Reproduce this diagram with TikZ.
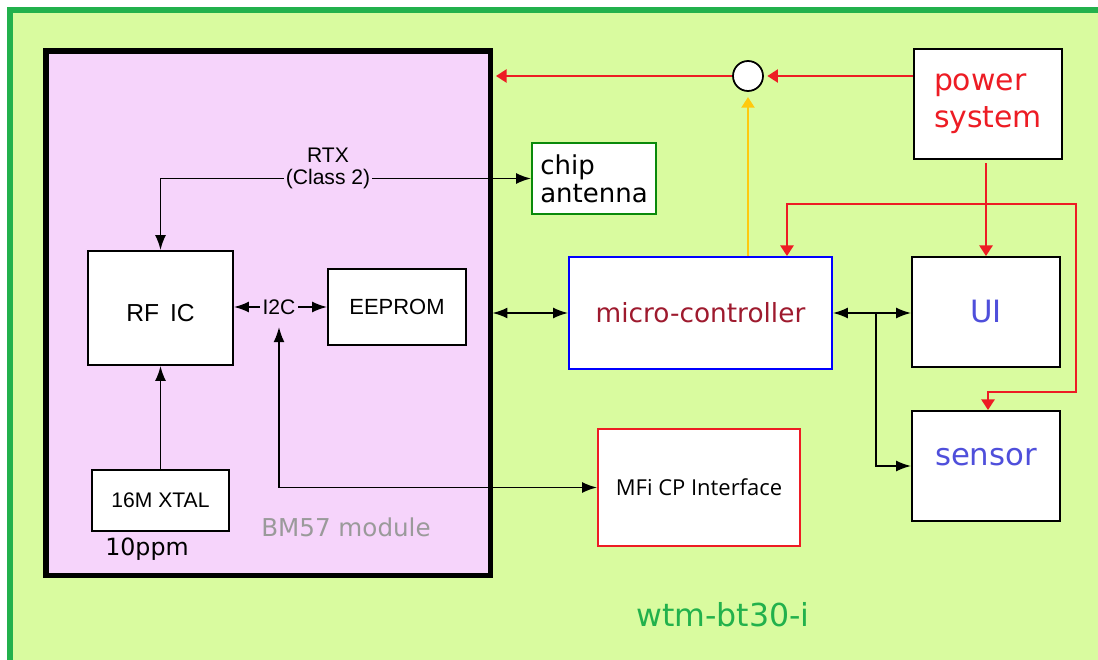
\documentclass[tikz,border=0pt]{standalone}
\usepackage{fontspec}
\setmainfont{DejaVu Sans}
\newfontfamily\arialf{Liberation Sans}
\newfontfamily\segoef{Open Sans}
\usetikzlibrary{arrows.meta}
\definecolor{bgfill}{HTML}{D9FB9F}
\definecolor{frameg}{HTML}{22B14C}
\definecolor{bmfill}{HTML}{F6D4FB}
\definecolor{redc}{HTML}{ED1C24}
\definecolor{yelc}{HTML}{FFC90E}
\definecolor{antg}{HTML}{0A8A0A}
\definecolor{mcutxt}{HTML}{9E1A2E}
\definecolor{bluetxt}{HTML}{4F4FDB}
\definecolor{graytxt}{HTML}{9A9A9A}
\tikzset{
  box/.style={draw=black, fill=white, line width=1.1pt, inner sep=0pt, align=center},
  blackline/.style={draw=black, line width=0.9pt},
  bR/.style={-{Latex[length=8.5pt,width=6.2pt]}},
  bL/.style={{Latex[length=8.5pt,width=6.2pt]}-},
  bLR/.style={{Latex[length=8.5pt,width=6.2pt]}-{Latex[length=8.5pt,width=6.2pt]}},
  redline/.style={draw=redc, line width=1pt},
  cR/.style={-{Triangle[length=6pt,width=7.5pt]}},
  cLR/.style={{Triangle[length=6pt,width=7.5pt]}-{Triangle[length=6pt,width=7.5pt]}},
  yelline/.style={draw=yelc, line width=1pt},
  arialtxt/.style={font=\arialf\fontsize{12}{13}\selectfont},
}
\begin{document}
\begin{tikzpicture}[x=0.02cm,y=-0.02cm]
\useasboundingbox (0,0) rectangle (1098,659);
\fill[white] (0,0) rectangle (1098,659);
\clip (0,0) rectangle (1098,659);
\draw[fill=bgfill, draw=frameg, line width=3pt] (10,10) rectangle (1130,700);

% BM57 module
\node[draw=black, fill=bmfill, line width=2.85pt, inner sep=0pt,
      minimum width=444*0.02cm, minimum height=524*0.02cm] (bm) at (268,313) {};

% inner boxes
\node[box, minimum width=145*0.02cm, minimum height=114*0.02cm,
      font=\arialf\fontsize{14}{16}\selectfont] (rfic) at (160.5,308) {\raisebox{-2.8pt}[\height][\depth]{RF\hspace{0.45em}IC}};
\node[box, minimum width=138*0.02cm, minimum height=76*0.02cm,
      font=\arialf\fontsize{12.5}{14}\selectfont] (eeprom) at (397,307) {EEPROM};
\node[box, minimum width=137*0.02cm, minimum height=61*0.02cm,
      font=\arialf\fontsize{12}{14}\selectfont] (xtal) at (160.5,500.5) {16M XTAL};
\node[font=\fontsize{13.5}{15}\selectfont, inner sep=0pt] (ppm) at (147,549) {10ppm};
\node[font=\fontsize{14}{16}\selectfont, text=graytxt, inner sep=0pt] (bmlabel) at (346,527) {BM57 module};

% right side boxes
\node[box, draw=antg, minimum width=124*0.02cm, minimum height=71*0.02cm,
      align=left, font=\fontsize{14.8}{16}\selectfont] (ant) at (594,178.5) {chip\\antenna};
\node[draw=black, fill=white, circle, line width=1pt, inner sep=0pt,
      minimum size=30*0.02cm] (circ) at (748,76) {};
\node[box, minimum width=148*0.02cm, minimum height=110*0.02cm, align=left,
      text=redc, font=\fontsize{17}{21}\selectfont] (pwr) at (988,104) {power\\system};
\node[box, draw=blue, minimum width=263*0.02cm, minimum height=112*0.02cm,
      text=mcutxt, font=\fontsize{15}{17}\selectfont] (mcu) at (700.5,313) {micro-controller};
\node[box, minimum width=148*0.02cm, minimum height=110*0.02cm,
      text=bluetxt, font=\fontsize{17.5}{19}\selectfont] (ui) at (986,312) {UI};
\node[box, minimum width=148*0.02cm, minimum height=110*0.02cm,
      text=bluetxt, font=\fontsize{17.5}{19}\selectfont] (sensor) at (986,466) {\raisebox{5pt}[\height][\depth]{sensor}};
\node[box, draw=redc, minimum width=202*0.02cm, minimum height=117*0.02cm,
      font=\segoef\fontsize{12.5}{14}\selectfont] (mfi) at (699,487.5) {MFi CP Interface};
\node[text=frameg, font=\fontsize{18}{20}\selectfont, inner sep=0pt] (wtm) at (723,615) {wtm-bt30-i};

% I2C label
\node[fill=bmfill, inner sep=1.5pt, arialtxt] (i2c) at (279,307) {I2C};

% black connectors
\draw[blackline, bLR] (rfic.north) |- (ant.west);
\node[fill=bmfill, inner sep=1pt, align=center, arialtxt] (rtx) at (328,168.5) {RTX\\(Class 2)};
\draw[blackline, bL] (rfic.east |- i2c.west) -- (i2c.west);
\draw[blackline, bR] (i2c.east) -- (eeprom.west |- i2c.east);
\draw[blackline, bLR] ([yshift=-5.5pt]i2c.south) |- (mfi.west);
\draw[blackline, bR] (xtal.north) -- (rfic.south);
\draw[blackline, bLR] (bm.east |- mcu.west) -- (mcu.west);
\draw[blackline, bLR] (mcu.east) -- (ui.west |- mcu.east);
\coordinate (br) at (876,313);
\draw[blackline, bR] (br) |- (sensor.west);

% red connectors
\draw[redline, cR, shorten >=2pt] (pwr.west |- circ.east) -- (circ.east);
\draw[redline, cR, shorten >=2pt] (circ.west) -- (bm.east |- circ.west);
\draw[redline, cR, shorten <=2pt] (ui.north |- pwr.south) -- (ui.north);
\coordinate (rtop) at (1076,204);
\coordinate (rbot) at (1076,392);
\draw[redline, cLR] ([xshift=1.73cm]mcu.north) |- (rtop) -- (rbot) -| ([xshift=0.04cm]sensor.north);

% yellow connector
\draw[yelline, cR, shorten >=3pt] (circ.south |- mcu.north) -- (circ.south);
\end{tikzpicture}
\end{document}
